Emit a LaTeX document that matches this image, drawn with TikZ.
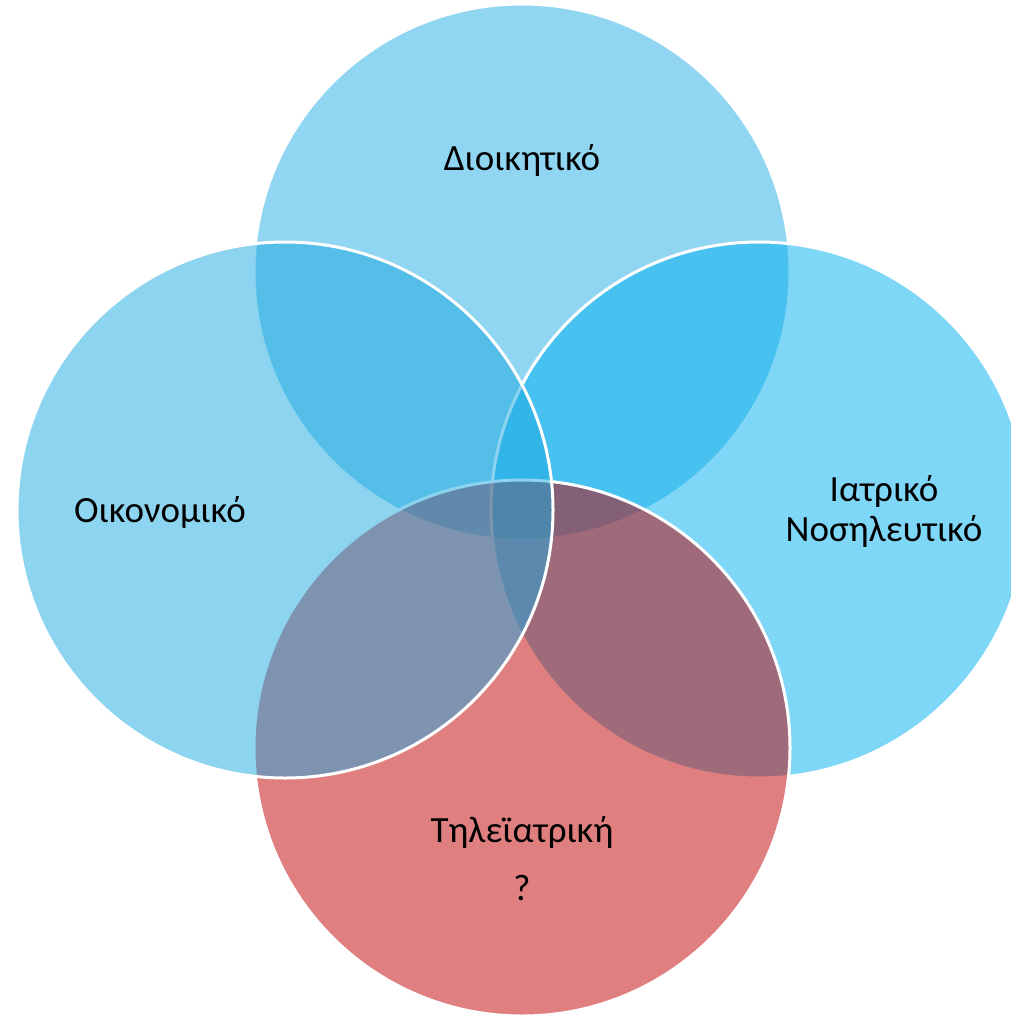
\documentclass[tikz,border=0pt]{standalone}
\usepackage{fontspec}
\setmainfont{Carlito}
\definecolor{ctop}{RGB}{33,171,227}
\definecolor{cright}{RGB}{0,175,239}
\definecolor{cbottom}{RGB}{193,0,0}
\definecolor{cleft}{RGB}{27,169,225}
\tikzset{
  venn/.style={fill opacity=0.5, draw=white, draw opacity=1, line width=3pt},
  lbl/.style={font=\fontsize{37}{40}\selectfont, text=black, align=center, inner sep=0pt}
}
\begin{document}
\begin{tikzpicture}[x=1pt,y=-1pt]
\useasboundingbox (0,0) rectangle (1010,1017);
\coordinate (ct) at (522,272);
\coordinate (cr) at (759,510);
\coordinate (cb) at (522,748);
\coordinate (cl) at (285,510);
\path[venn, fill=ctop] (ct) circle (268pt);
\path[venn, fill=cright] (cr) circle (268pt);
\path[venn, fill=cbottom] (cb) circle (268pt);
\path[venn, fill=cleft] (cl) circle (268pt);
\node[lbl] (tt) at (522,160) {Διοικητικό};
\node[lbl] (tl) at (160,512) {Οικονομικό};
\node[lbl] (tr) at (884,511) {Ιατρικό\\Νοσηλευτικό};
\node[lbl] (tb) at (522,832) {Τηλεϊατρική};
\node[lbl] (tq) at (522,888) {?};
\end{tikzpicture}
\end{document}
